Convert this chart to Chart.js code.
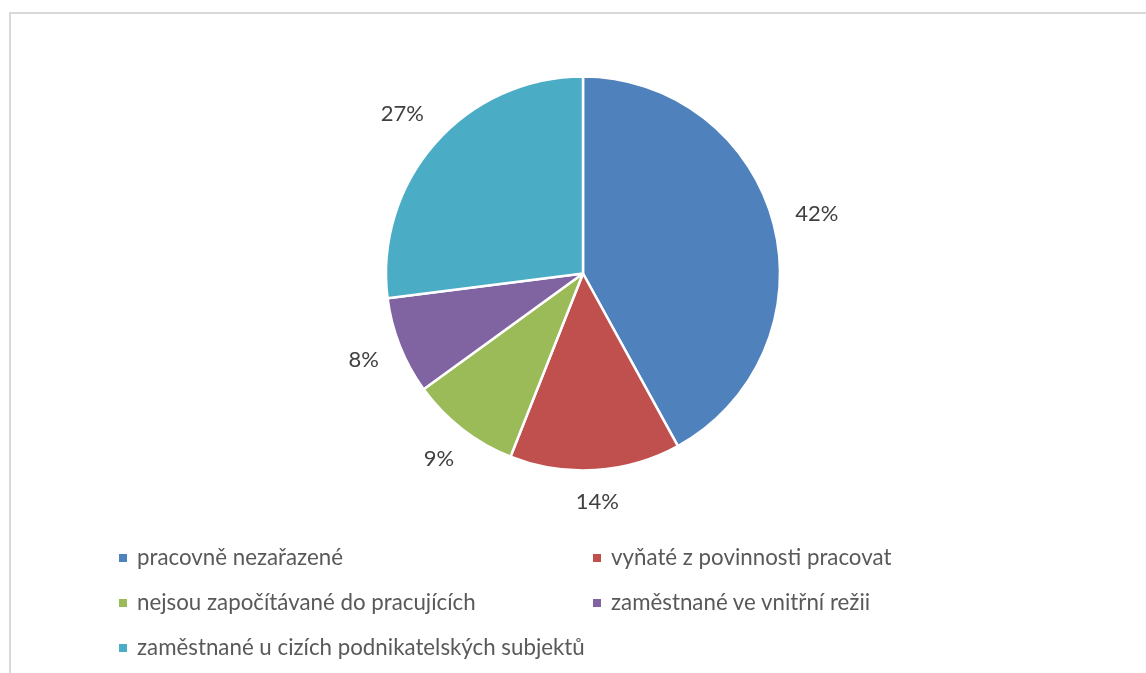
<!DOCTYPE html>
<html>
<head>
<meta charset="utf-8">
<script src="https://cdn.jsdelivr.net/npm/chart.js@4/dist/chart.umd.min.js"></script>
<style>
  html, body { margin: 0; padding: 0; background: #fff; }
  #wrap { position: relative; width: 1146px; height: 673px; overflow: hidden; }
  #frame {
    position: absolute; left: 9px; top: 12px; width: 1200px; height: 700px;
    border-left: 2px solid #d9d9d9; border-top: 2px solid #d9d9d9;
  }
  #chartPie { position: absolute; left: 0; top: 0; }
  .legendItem {
    position: absolute; font-family: Lato, "Open Sans", sans-serif; font-size: 22.3px;
    color: #595959; white-space: nowrap; line-height: 24px;
  }
  .legendItem span.box {
    display: inline-block; width: 8px; height: 8px; margin-right: 10px;
    vertical-align: middle; position: relative; top: -1px;
  }
</style>
</head>
<body>
<div id="wrap">
  <div id="frame"></div>
  <canvas id="chartPie" width="1146" height="673"></canvas>
</div>
<script>
const categories = [
  "pracovně nezařazené",
  "vyňaté z povinnosti pracovat",
  "nejsou započítávané do pracujících",
  "zaměstnané ve vnitřní režii",
  "zaměstnané u cizích podnikatelských subjektů",
];
const shares = [42, 14, 9, 8, 27];
const sliceColors = ["#4F81BD", "#C0504D", "#9BBB59", "#8064A2", "#4BACC6"];

// legend order in the picture (row by row, two columns)
const legendOrder = [0, 1, 2, 3, 4];
const legendSpots = [
  { x: 119, y: 557 },
  { x: 593, y: 557 },
  { x: 119, y: 602 },
  { x: 593, y: 602 },
  { x: 119, y: 647 },
];

const wrap = document.getElementById("wrap");
legendOrder.forEach((idx, i) => {
  const item = document.createElement("div");
  item.className = "legendItem";
  item.style.left = legendSpots[i].x + "px";
  item.style.top = (legendSpots[i].y - 12) + "px";
  const box = document.createElement("span");
  box.className = "box";
  box.style.background = sliceColors[idx];
  item.appendChild(box);
  item.appendChild(document.createTextNode(categories[idx]));
  wrap.appendChild(item);
});

// percent labels outside the slices
const outsideLabels = {
  id: "outsideLabels",
  afterDatasetsDraw(chart) {
    const ctx = chart.ctx;
    const meta = chart.getDatasetMeta(0);
    ctx.save();
    ctx.font = "22px Lato, 'Open Sans', sans-serif";
    ctx.fillStyle = "#404040";
    ctx.textAlign = "center";
    ctx.textBaseline = "middle";
    meta.data.forEach((arc, i) => {
      const p = arc.getProps(["x", "y", "startAngle", "endAngle", "outerRadius"], true);
      const mid = (p.startAngle + p.endAngle) / 2;
      const text = shares[i] + "%";
      const w = ctx.measureText(text).width;
      const c = Math.cos(mid), s = Math.sin(mid);
      const extent = Math.abs(c) * w / 2 + Math.abs(s) * 10;
      const d = p.outerRadius + 21 + extent;
      ctx.fillText(text, p.x + c * d, p.y + s * d);
    });
    ctx.restore();
  },
};

const config = {
  type: "pie",
  data: {
    labels: categories,
    datasets: [
      {
        data: shares,
        backgroundColor: sliceColors,
        borderColor: "#ffffff",
        borderWidth: 2.5,
        hoverOffset: 0,
      },
    ],
  },
  options: {
    responsive: false,
    animation: false,
    radius: 197,
    layout: {
      padding: { top: 76, bottom: 202, left: 386, right: 366 },
    },
    plugins: {
      legend: { display: false },
      tooltip: { enabled: false },
    },
  },
  plugins: [outsideLabels],
};

new Chart(document.getElementById("chartPie").getContext("2d"), config);
</script>
</body>
</html>
